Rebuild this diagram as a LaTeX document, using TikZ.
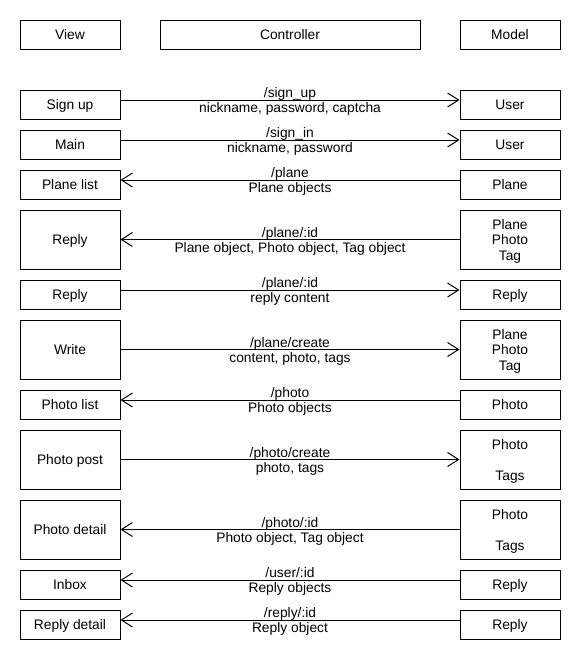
\documentclass[tikz,border=0pt]{standalone}
\usepackage{fontspec}
\setmainfont{Liberation Sans}
\usetikzlibrary{arrows.meta}
\tikzset{every path/.style={black,line width=1pt},
  box/.style={draw, minimum width=100pt, minimum height=29pt, inner sep=1pt, text depth=0pt, align=center, font=\fontsize{13.8}{15.5}\selectfont},
  tallbox/.style={box, minimum height=59pt},
  msg/.style={align=center, inner sep=0pt, text depth=0pt, font=\fontsize{13.8}{15}\selectfont}}

\begin{document}
\begin{tikzpicture}[x=1pt, y=-1pt, >={Straight Barb[length=11pt,width=14pt]}]
   \useasboundingbox (0,0) rectangle (580,670);
   \node[box] (view) at (70,34.5) {View};
   \node[box, minimum width=260pt] (ctrl) at (290,34.5) {Controller};
   \node[box] (model) at (510,34.5) {Model};

   \node[box] (signup) at (70,104.5) {Sign up};
   \node[box] (user1) at (510,104.5) {User};
   \draw[->] ([yshift=4.5pt]signup.east) -- node[msg] {/sign\_up\\nickname, password, captcha} ([yshift=4.5pt]user1.west);

   \node[box] (main) at (70,144.5) {Main};
   \node[box] (user2) at (510,144.5) {User};
   \draw[->] ([yshift=4.5pt]main.east) -- node[msg] {/sign\_in\\nickname, password} ([yshift=4.5pt]user2.west);

   \node[box] (planelist) at (70,184.5) {Plane list};
   \node[box] (plane) at (510,184.5) {Plane};
   \draw[<-] ([yshift=4.5pt]planelist.east) -- node[msg] {/plane\\Plane objects} ([yshift=4.5pt]plane.west);

   \node[tallbox] (reply1) at (70,239.5) {Reply};
   \node[tallbox] (ppt1) at (510,239.5) {Plane\\Photo\\Tag};
   \draw[<-] (reply1.east) -- node[msg] {/plane/:id\\Plane object, Photo object, Tag object} (ppt1.west);

   \node[box] (reply2) at (70,294.5) {Reply};
   \node[box] (replym1) at (510,294.5) {Reply};
   \draw[->] ([yshift=4.5pt]reply2.east) -- node[msg] {/plane/:id\\reply content} ([yshift=4.5pt]replym1.west);

   \node[tallbox] (write) at (70,349.5) {Write};
   \node[tallbox] (ppt2) at (510,349.5) {Plane\\Photo\\Tag};
   \draw[->] (write.east) -- node[msg] {/plane/create\\content, photo, tags} (ppt2.west);

   \node[box] (photolist) at (70,404.5) {Photo list};
   \node[box] (photo) at (510,404.5) {Photo};
   \draw[<-] ([yshift=4.5pt]photolist.east) -- node[msg] {/photo\\Photo objects} ([yshift=4.5pt]photo.west);

   \node[tallbox] (photopost) at (70,459.5) {Photo post};
   \node[tallbox] (pt1) at (510,459.5) {Photo\\[\baselineskip]Tags};
   \draw[->] (photopost.east) -- node[msg] {/photo/create\\photo, tags} (pt1.west);

   \node[tallbox] (photodetail) at (70,529.5) {Photo detail};
   \node[tallbox] (pt2) at (510,529.5) {Photo\\[\baselineskip]Tags};
   \draw[<-] (photodetail.east) -- node[msg] {/photo/:id\\Photo object, Tag object} (pt2.west);

   \node[box] (inbox) at (70,584.5) {Inbox};
   \node[box] (replym2) at (510,584.5) {Reply};
   \draw[<-] ([yshift=4.5pt]inbox.east) -- node[msg] {/user/:id\\Reply objects} ([yshift=4.5pt]replym2.west);

   \node[box] (replydetail) at (70,624.5) {Reply detail};
   \node[box] (replym3) at (510,624.5) {Reply};
   \draw[<-] ([yshift=4.5pt]replydetail.east) -- node[msg] {/reply/:id\\Reply object} ([yshift=4.5pt]replym3.west);
  \end{tikzpicture}
\end{document}
